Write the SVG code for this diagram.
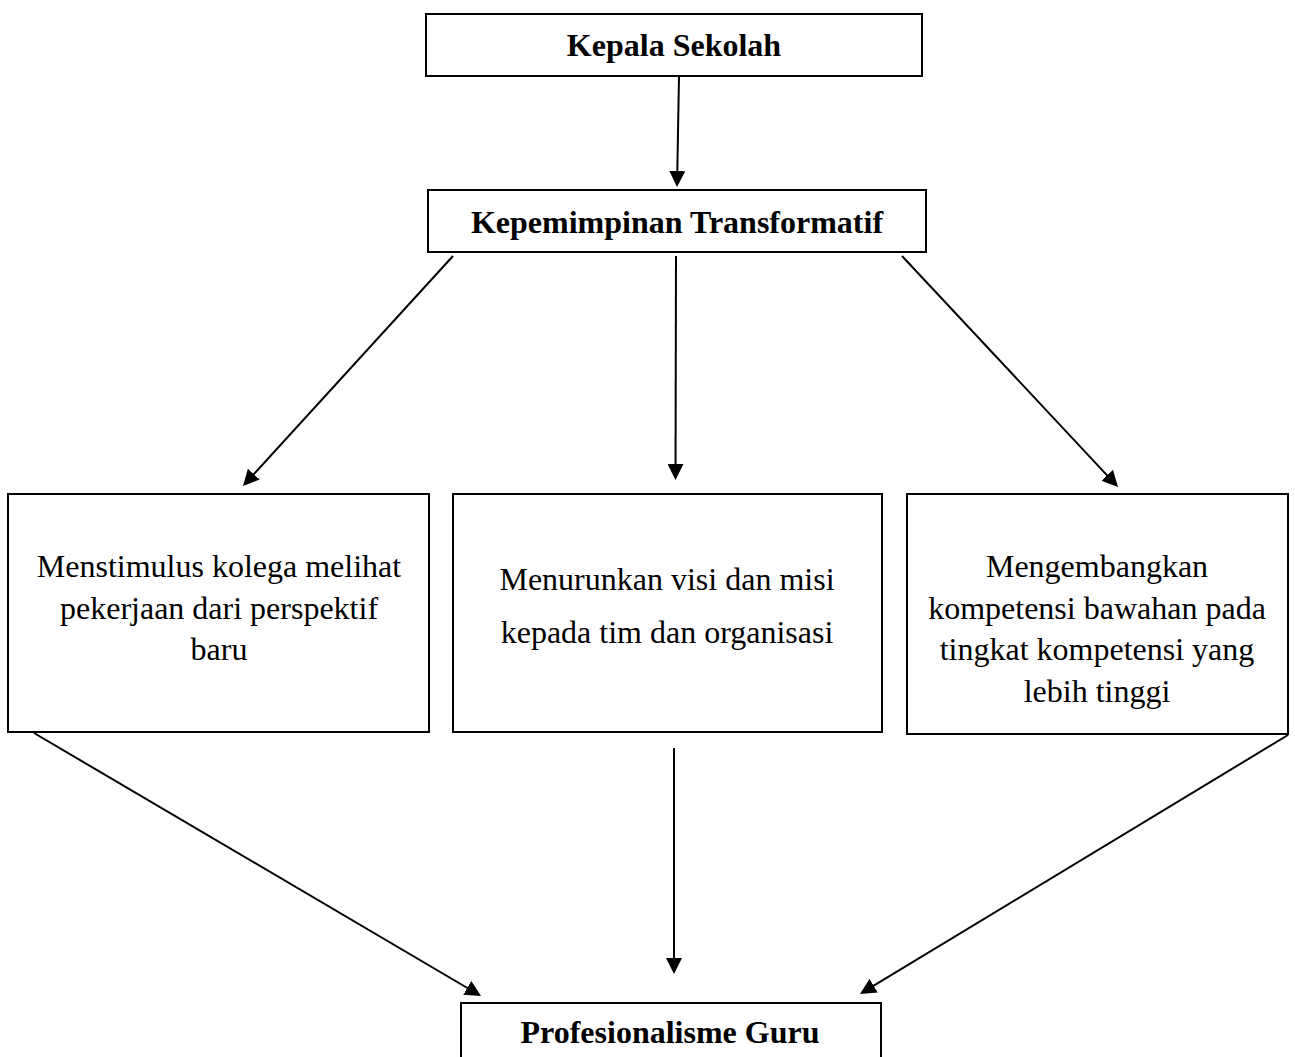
<svg xmlns="http://www.w3.org/2000/svg" width="1295" height="1057" viewBox="0 0 1295 1057">
<style>
.box{fill:#fff;stroke:#000;stroke-width:2}
.t{font-family:"Liberation Serif","Times New Roman",serif;font-size:32px;fill:#000;text-anchor:middle}
.b{font-weight:bold}
.c{stroke:#000;stroke-width:2;fill:none;marker-end:url(#ah)}
</style>
<defs>
<marker id="ah" viewBox="0 0 16 16" refX="12" refY="8" markerWidth="16" markerHeight="16" markerUnits="userSpaceOnUse" orient="auto">
<path d="M0,0 L16,8 L0,16 z" fill="#000"/>
</marker>
</defs>
<rect width="1295" height="1057" fill="#fff"/>
<g id="connectors">
<line class="c" x1="679" y1="76" x2="677.1" y2="183"/>
<line class="c" x1="453" y1="256" x2="245.7" y2="483"/>
<line class="c" x1="676" y1="256" x2="675.5" y2="476"/>
<line class="c" x1="902" y1="256" x2="1115.3" y2="484.1"/>
<line class="c" x1="34" y1="733" x2="477.6" y2="994"/>
<line class="c" x1="674" y1="748" x2="674" y2="970"/>
<line class="c" x1="1288" y1="735" x2="863.4" y2="991.9"/>
</g>
<g id="kepala-sekolah">
<rect class="box" x="426" y="14" width="496" height="62"/>
<text class="t b" x="674" y="56">Kepala Sekolah</text>
</g>
<g id="kepemimpinan">
<rect class="box" x="428" y="190" width="498" height="62"/>
<text class="t b" x="677" y="233">Kepemimpinan Transformatif</text>
</g>
<g id="menstimulus">
<rect class="box" x="8" y="494" width="421" height="238"/>
<text class="t" x="219" y="577">Menstimulus kolega melihat</text>
<text class="t" x="219" y="618.5">pekerjaan dari perspektif</text>
<text class="t" x="219" y="660">baru</text>
</g>
<g id="menurunkan">
<rect class="box" x="453" y="494" width="429" height="238"/>
<text class="t" x="667" y="590">Menurunkan visi dan misi</text>
<text class="t" x="667" y="643">kepada tim dan organisasi</text>
</g>
<g id="mengembangkan">
<rect class="box" x="907" y="494" width="381" height="240"/>
<text class="t" x="1097" y="577">Mengembangkan</text>
<text class="t" x="1097" y="618.5">kompetensi bawahan pada</text>
<text class="t" x="1097" y="660">tingkat kompetensi yang</text>
<text class="t" x="1097" y="701.5">lebih tinggi</text>
</g>
<g id="profesionalisme">
<rect class="box" x="461" y="1003" width="420" height="90"/>
<text class="t b" x="670" y="1043">Profesionalisme Guru</text>
</g>
</svg>
